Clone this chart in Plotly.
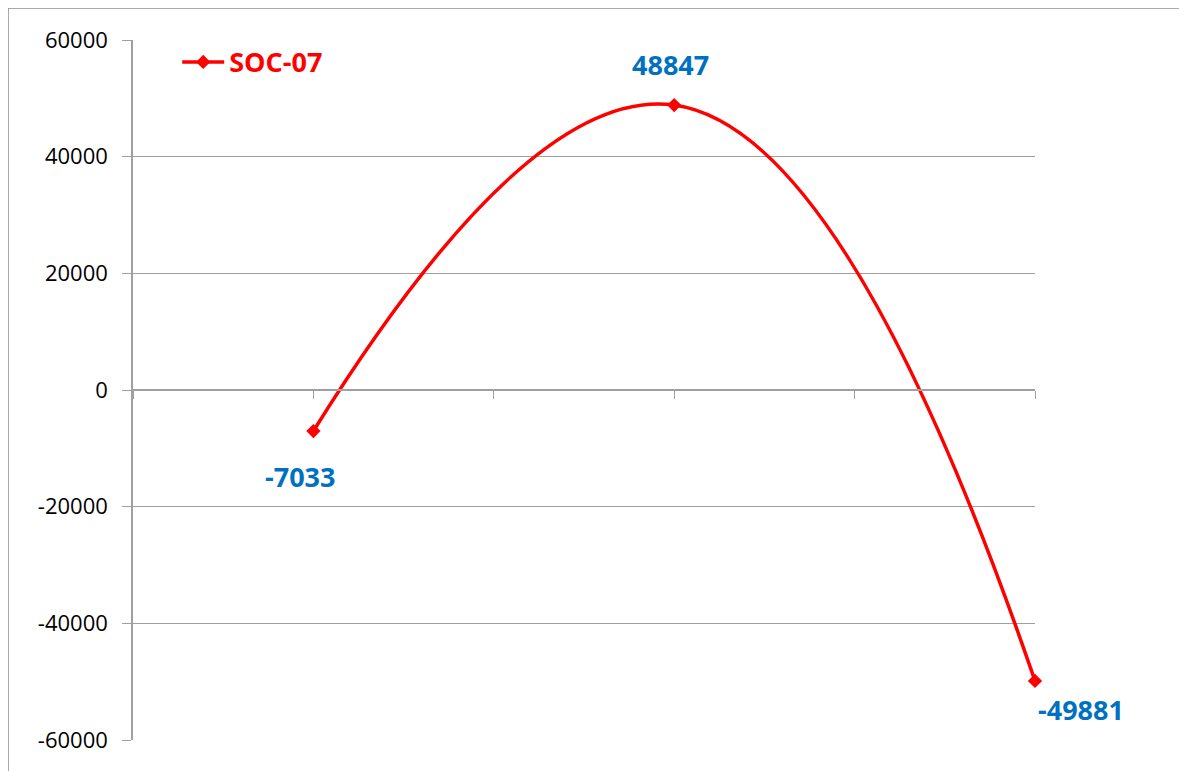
import plotly.graph_objects as go

x_pos = [1, 3, 5]
values = [-7033, 48847, -49881]
labels = ["-7033", "48847", "-49881"]
label_xshift = [-13, -4, 46]
label_yshift = [-45, 41, -29]
series_name = "SOC-07"
y_ticks = [-60000, -40000, -20000, 0, 20000, 40000, 60000]

fig = go.Figure()
fig.add_trace(go.Scatter(
    x=x_pos, y=values, name=series_name,
    mode="lines+markers",
    line=dict(color="#FF0000", width=3.5, shape="spline", smoothing=1.3),
    marker=dict(symbol="diamond", size=11, color="#FF0000"),
    cliponaxis=False,
))

for xv, yv, t, dx, dy in zip(x_pos, values, labels, label_xshift, label_yshift):
    fig.add_annotation(x=xv, y=yv, text=t, showarrow=False,
                       xshift=dx, yshift=dy,
                       font=dict(family="Open Sans", size=27, color="#0070C0", weight="bold"))

fig.update_layout(
    width=1187, height=771,
    margin=dict(l=125, r=160, t=32, b=39),
    paper_bgcolor="white", plot_bgcolor="white",
    showlegend=True,
    legend=dict(x=0.049, y=1.003, xanchor="left", yanchor="top", itemwidth=42,
                bgcolor="rgba(0,0,0,0)",
                font=dict(family="Open Sans", size=27, color="#FF0000", weight="bold")),
    xaxis=dict(range=[0, 5], tickvals=[0, 1, 2, 3, 4, 5], showticklabels=False,
               showgrid=False, zeroline=False, showline=True, linecolor="#A0A0A0",
               linewidth=1.5, ticks="outside", ticklen=8, tickcolor="#A0A0A0",
               anchor="free", position=0.5),
    yaxis=dict(range=[-60000, 60000], tickvals=y_ticks,
               ticktext=[str(v) for v in y_ticks],
               showgrid=True, gridcolor="#A0A0A0", gridwidth=1,
               zeroline=False, showline=True, linecolor="#A0A0A0", linewidth=1.5,
               ticks="outside", ticklen=9, tickcolor="#A0A0A0",
               ticklabelstandoff=10,
               tickfont=dict(family="Open Sans", size=22, color="black")),
    font=dict(family="Open Sans"),
)

# chart-area border (left and top edges visible)
fig.add_shape(type="line", xref="paper", yref="paper",
              x0=-125/902, x1=-125/902, y0=1 + 32/700, y1=-39/700 - 0.02,
              line=dict(color="#8C8C8C", width=1.5))
fig.add_shape(type="line", xref="paper", yref="paper",
              x0=-125/902, x1=1 + 160/902 + 0.02, y0=1 + 32/700, y1=1 + 32/700,
              line=dict(color="#8C8C8C", width=1.5))

fig.write_html("out.html")
